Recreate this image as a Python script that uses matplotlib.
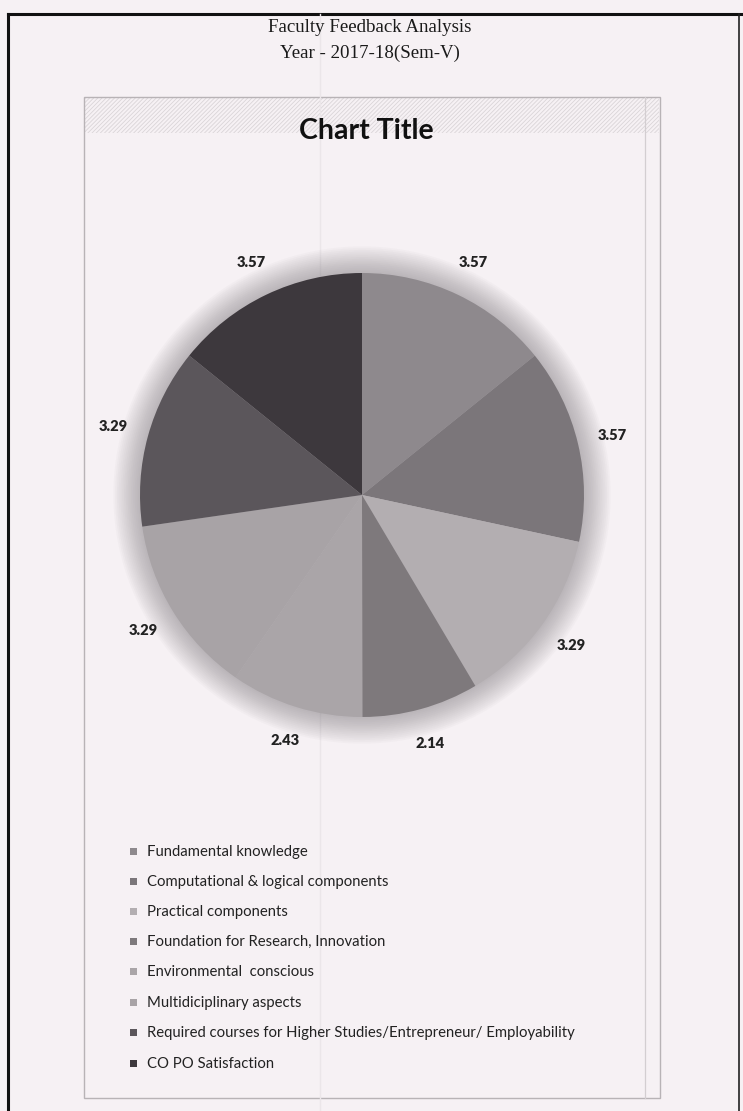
import numpy as np
import matplotlib.pyplot as plt
from matplotlib.patches import Rectangle, Circle

# data
categories = ['Fundamental knowledge',
              'Computational & logical components',
              'Practical components',
              'Foundation for Research, Innovation',
              'Environmental  conscious',
              'Multidiciplinary aspects',
              'Required courses for Higher Studies/Entrepreneur/ Employability',
              'CO PO Satisfaction']
scores = [3.57, 3.57, 3.29, 2.14, 2.43, 3.29, 3.29, 3.57]
shades = ['#8e898d', '#7b767a', '#b3aeb1', '#7e797c',
          '#aaa5a8', '#a8a3a6', '#5b565b', '#3d383d']

W, H = 743, 1111
bg = '#f6f1f4'
plt.rcParams['hatch.linewidth'] = 0.6
fig = plt.figure(figsize=(W / 100, H / 100), dpi=100, facecolor=bg)

# background axes in pixel coords
bx = fig.add_axes([0, 0, 1, 1])
bx.set_xlim(0, W)
bx.set_ylim(H, 0)
bx.axis('off')

# page border (scan)
bx.plot([8, 743], [14, 14], color='#111111', lw=2.2)
bx.plot([8, 8], [14, H], color='#111111', lw=2.2)
bx.plot([739, 739], [14, H], color='#222222', lw=1.2)
bx.plot([320, 320], [14, H], color='#ebe6e9', lw=1.0)

bx.text(370, 28, 'Faculty Feedback Analysis', ha='center', va='center',
        family='Liberation Serif', fontsize=13.6, color='#1a1a1a')
bx.text(370, 53, 'Year - 2017-18(Sem-V)', ha='center', va='center',
        family='Liberation Serif', fontsize=13.6, color='#1a1a1a')

# chart area with hatched title band
bx.add_patch(Rectangle((85, 98), 574, 35, facecolor='none',
                       edgecolor='#dad5d8', hatch='////////', lw=0))
bx.add_patch(Rectangle((84, 97), 576, 1001, facecolor='none',
                       edgecolor='#b8b3b6', lw=1.0))
bx.plot([645, 645], [97, 1098], color='#d3ced1', lw=0.9)
bx.text(366, 131, 'Chart Title', ha='center', va='center',
        family='Lato', fontweight='bold', fontsize=20.5, color='#111111')

# pie
cx, cy, r = 362, 495, 222
ax = fig.add_axes([(cx - r) / W, 1 - (cy + r) / H, 2 * r / W, 2 * r / H])
ax.set_xlim(-1, 1)
ax.set_ylim(-1, 1)
ax.axis('off')

# soft shadow round the pie
for rr in np.linspace(1.0, 1.12, 16):
    ax.add_patch(Circle((0, 0), rr, color='#6a656a', alpha=0.03, lw=0,
                        zorder=0, clip_on=False))

wedges, texts = ax.pie(scores, colors=shades, startangle=90, counterclock=False,
                       labels=[f'{v:.2f}' for v in scores], labeldistance=1.16,
                       radius=1.0, frame=False,
                       wedgeprops=dict(lw=0),
                       textprops=dict(family='Lato', fontweight='heavy',
                                      fontsize=10.5, color='#222222'))
for t in texts:
    t.set_ha('center')
    t.set_va('center')
ax.set_xlim(-1, 1)
ax.set_ylim(-1, 1)

# legend
ys = [852, 882, 912, 942, 972, 1003, 1033, 1064]
for name, col, y in zip(categories, shades, ys):
    bx.add_patch(Rectangle((130, y - 4), 7, 7, facecolor=col, edgecolor='none'))
    bx.text(147, y, name, ha='left', va='center', family='Lato',
            fontsize=10.7, color='#222222')

fig.savefig('out.png', dpi=100, facecolor=bg)
